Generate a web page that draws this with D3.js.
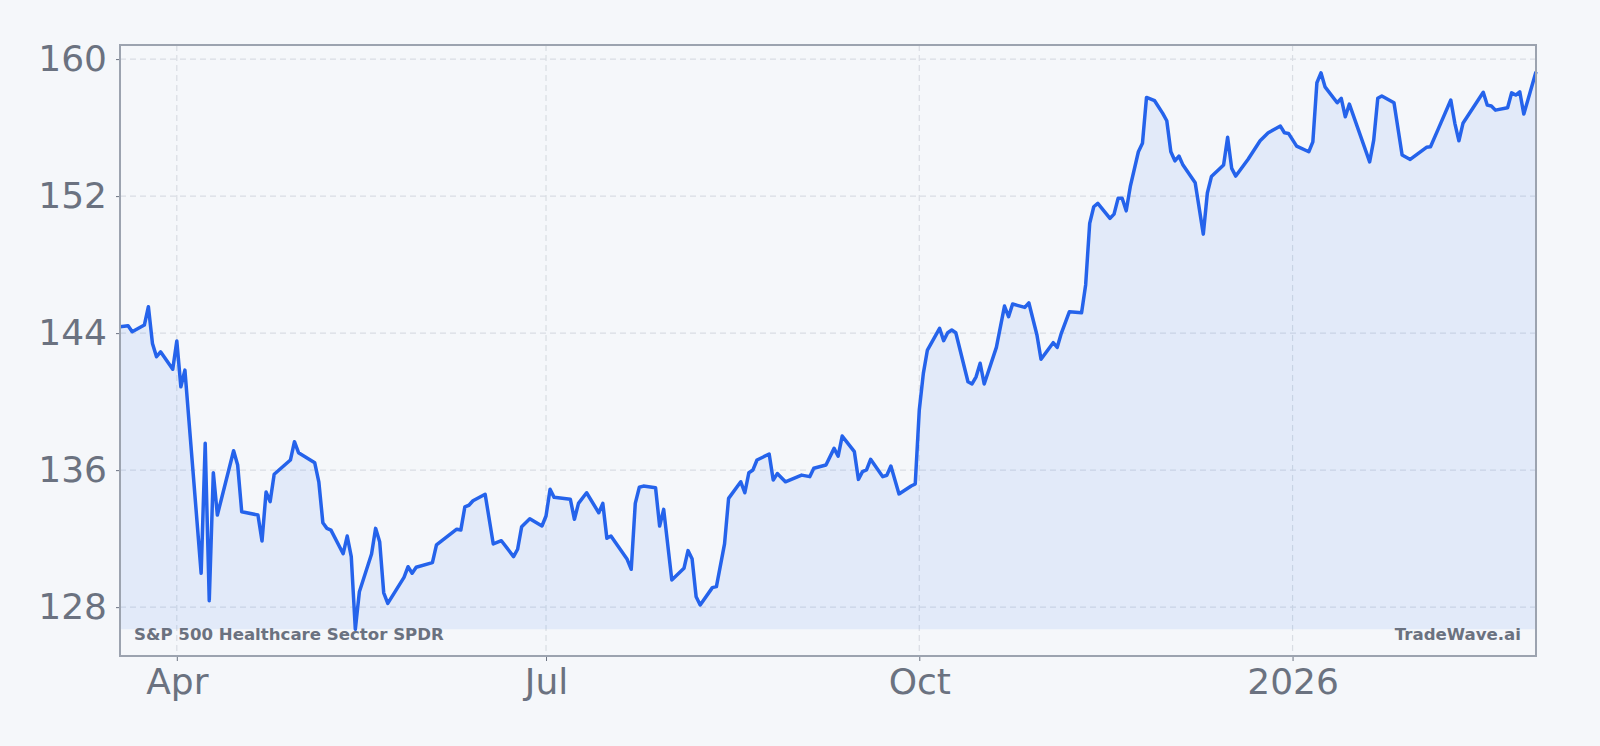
<!DOCTYPE html>
<html>
<head>
<meta charset="utf-8">
<script src="https://cdn.jsdelivr.net/npm/d3@7"></script>
<style>
  body { margin: 0; background: #f5f7fa; }
  svg { display: block; font-family: "DejaVu Sans", sans-serif; }
  .axis text { fill: #6b7280; font-size: 36px; font-family: "DejaVu Sans", sans-serif; }
  .axis line { stroke: #6b7280; }
  .grid line { stroke: #d9dde3; stroke-width: 1.2; stroke-dasharray: 6,4; }
  .label { fill: #6b7280; font-size: 16.6px; font-weight: bold; font-family: "DejaVu Sans", sans-serif; }
</style>
</head>
<body>
<svg id="chart"></svg>
<script>
// XLV close
const dates = [
  "2025-03-18","2025-03-20","2025-03-21","2025-03-24","2025-03-25","2025-03-26","2025-03-27","2025-03-28","2025-03-31",
  "2025-04-01","2025-04-02","2025-04-03","2025-04-07","2025-04-08","2025-04-09","2025-04-10","2025-04-11","2025-04-15",
  "2025-04-16","2025-04-17","2025-04-21","2025-04-22","2025-04-23","2025-04-24","2025-04-25","2025-04-29","2025-04-30",
  "2025-05-01","2025-05-05","2025-05-06","2025-05-07","2025-05-08","2025-05-09","2025-05-12","2025-05-13","2025-05-14",
  "2025-05-15","2025-05-16","2025-05-19","2025-05-20","2025-05-21","2025-05-22","2025-05-23","2025-05-27","2025-05-28",
  "2025-05-29","2025-05-30","2025-06-03","2025-06-04","2025-06-09","2025-06-10","2025-06-11","2025-06-12","2025-06-13",
  "2025-06-16","2025-06-18","2025-06-20","2025-06-23","2025-06-24","2025-06-25","2025-06-27","2025-06-30","2025-07-01",
  "2025-07-02","2025-07-03","2025-07-07","2025-07-08","2025-07-09","2025-07-11","2025-07-14","2025-07-15","2025-07-16",
  "2025-07-17","2025-07-21","2025-07-22","2025-07-23","2025-07-24","2025-07-25","2025-07-28","2025-07-29","2025-07-30",
  "2025-08-01","2025-08-04","2025-08-05","2025-08-06","2025-08-07","2025-08-08","2025-08-11","2025-08-12","2025-08-14",
  "2025-08-15","2025-08-18","2025-08-19","2025-08-20","2025-08-21","2025-08-22","2025-08-25","2025-08-26","2025-08-27",
  "2025-08-29","2025-09-02","2025-09-04","2025-09-05","2025-09-08","2025-09-10","2025-09-11","2025-09-12","2025-09-15",
  "2025-09-16","2025-09-17","2025-09-18","2025-09-19","2025-09-22","2025-09-23","2025-09-24","2025-09-26","2025-09-29",
  "2025-09-30","2025-10-01","2025-10-02","2025-10-03","2025-10-06","2025-10-07","2025-10-08","2025-10-09","2025-10-10",
  "2025-10-13","2025-10-14","2025-10-15","2025-10-16","2025-10-17","2025-10-20","2025-10-22","2025-10-23","2025-10-24",
  "2025-10-27","2025-10-28","2025-10-30","2025-10-31","2025-11-03","2025-11-04","2025-11-05","2025-11-07","2025-11-10",
  "2025-11-11","2025-11-12","2025-11-13","2025-11-14","2025-11-17","2025-11-18","2025-11-19","2025-11-20","2025-11-21",
  "2025-11-22","2025-11-24","2025-11-25","2025-11-26","2025-11-28","2025-11-30","2025-12-01","2025-12-02","2025-12-03",
  "2025-12-04","2025-12-05","2025-12-08","2025-12-10","2025-12-11","2025-12-12","2025-12-15","2025-12-16","2025-12-17",
  "2025-12-18","2025-12-21","2025-12-24","2025-12-26","2025-12-29","2025-12-30","2025-12-31","2026-01-02","2026-01-05",
  "2026-01-06","2026-01-07","2026-01-08","2026-01-09","2026-01-12","2026-01-13","2026-01-14","2026-01-15","2026-01-20",
  "2026-01-21","2026-01-22","2026-01-23","2026-01-26","2026-01-28","2026-01-30","2026-02-03","2026-02-04","2026-02-06",
  "2026-02-09","2026-02-10","2026-02-11","2026-02-12","2026-02-17","2026-02-18","2026-02-19","2026-02-20","2026-02-23",
  "2026-02-24","2026-02-25","2026-02-26","2026-02-27","2026-03-02"
];
const prices = [
  144.37,144.43,144.08,144.47,145.54,143.40,142.62,142.91,141.89,
  143.54,140.87,141.84,129.98,137.57,128.38,135.85,133.38,137.13,
  136.30,133.57,133.38,131.86,134.72,134.16,135.76,136.59,137.66,
  137.02,136.43,135.32,132.93,132.60,132.50,131.12,132.15,130.95,
  126.71,128.90,131.10,132.60,131.82,128.84,128.22,129.74,130.36,
  129.98,130.33,130.60,131.63,132.55,132.50,133.86,133.95,134.21,
  134.59,131.69,131.88,130.95,131.38,132.70,133.16,132.74,133.32,
  134.88,134.41,134.30,133.13,134.06,134.68,133.51,134.06,132.02,
  132.15,130.79,130.21,134.06,135.00,135.07,134.97,132.74,133.71,
  129.59,130.27,131.30,130.83,128.61,128.13,129.14,129.20,131.69,
  134.35,135.32,134.68,135.85,136.01,136.59,136.94,135.42,135.80,
  135.32,135.71,135.62,136.11,136.30,137.27,136.82,137.99,137.08,
  135.46,135.91,136.01,136.63,135.62,135.70,136.24,134.61,135.07,
  135.19,139.51,141.65,143.01,144.28,143.56,144.02,144.18,144.02,
  141.16,141.03,141.45,142.24,141.03,143.17,145.58,144.96,145.70,
  145.50,145.77,143.89,142.47,143.44,143.17,143.99,145.25,145.19,
  146.81,150.41,151.38,151.58,150.70,150.95,151.87,151.87,151.14,
  152.55,154.59,155.08,157.76,157.57,156.83,156.40,154.59,154.06,
  154.34,153.81,152.78,149.78,152.18,153.14,153.81,155.43,153.62,
  153.17,154.14,155.23,155.70,156.09,155.70,155.66,154.92,154.59,
  155.17,158.62,159.20,158.38,157.45,157.71,156.63,157.37,154.00,
  155.27,157.71,157.84,157.45,154.40,154.14,154.85,154.88,155.97,
  157.61,156.25,155.23,156.25,158.06,157.31,157.26,157.02,157.16,
  158.03,157.90,158.09,156.79,159.26
];
const yTicks = [128, 136, 144, 152, 160];
const xTickDates = ["2025-04-01", "2025-07-01", "2025-10-01", "2026-01-01"];
const xTickLabels = ["Apr", "Jul", "Oct", "2026"];
const title = "S&P 500 Healthcare Sector SPDR";
const brand = "TradeWave.ai";

const width = 1600;
const height = 746;
const margin = {top: 45, right: 64, bottom: 90, left: 120};
const yPad = 0.048;

const parse = d3.timeParse("%Y-%m-%d");
const data = dates.map((d, i) => ({date: parse(d), value: prices[i]}));

const svg = d3.select("#chart")
    .attr("width", width)
    .attr("height", height);

const x = d3.scaleTime()
    .domain(d3.extent(data, d => d.date))
    .range([margin.left, width - margin.right]);

const [lo, hi] = d3.extent(data, d => d.value);
const pad = (hi - lo) * yPad;
const y = d3.scaleLinear()
    .domain([lo - pad, hi + pad])
    .range([height - margin.bottom, margin.top]);

const xTicks = xTickDates.map(parse);

// сетка
svg.append("g")
    .attr("class", "grid")
    .selectAll("line.h")
    .data(yTicks)
    .join("line")
    .attr("x1", margin.left)
    .attr("x2", width - margin.right)
    .attr("y1", d => y(d))
    .attr("y2", d => y(d));

svg.append("g")
    .attr("class", "grid")
    .selectAll("line.v")
    .data(xTicks)
    .join("line")
    .attr("x1", d => x(d))
    .attr("x2", d => x(d))
    .attr("y1", margin.top)
    .attr("y2", height - margin.bottom);

// заливка до минимума
const area = d3.area()
    .x(d => x(d.date))
    .y0(y(lo))
    .y1(d => y(d.value));

svg.append("path")
    .datum(data)
    .attr("fill", "#3b82f6")
    .attr("fill-opacity", 0.1)
    .attr("d", area);

const line = d3.line()
    .x(d => x(d.date))
    .y(d => y(d.value));

svg.append("path")
    .datum(data)
    .attr("fill", "none")
    .attr("stroke", "#2563eb")
    .attr("stroke-width", 3.5)
    .attr("stroke-linejoin", "round")
    .attr("d", line);

// оси
svg.append("g")
    .attr("class", "axis")
    .attr("transform", `translate(0,${height - margin.bottom})`)
    .call(d3.axisBottom(x)
        .tickValues(xTicks)
        .tickFormat((d, i) => xTickLabels[i])
        .tickSize(5)
        .tickPadding(7))
    .call(g => g.select(".domain").remove());

svg.append("g")
    .attr("class", "axis")
    .attr("transform", `translate(${margin.left},0)`)
    .call(d3.axisLeft(y)
        .tickValues(yTicks)
        .tickSize(4)
        .tickPadding(9))
    .call(g => g.select(".domain").remove());

// рамка
svg.append("rect")
    .attr("x", margin.left)
    .attr("y", margin.top)
    .attr("width", width - margin.left - margin.right)
    .attr("height", height - margin.top - margin.bottom)
    .attr("fill", "none")
    .attr("stroke", "#9ca3af")
    .attr("stroke-width", 2);

// подписи
svg.append("text")
    .attr("class", "label")
    .attr("x", margin.left + 14)
    .attr("y", height - margin.bottom - 16)
    .text(title);

svg.append("text")
    .attr("class", "label")
    .attr("x", width - margin.right - 15)
    .attr("y", height - margin.bottom - 16)
    .attr("text-anchor", "end")
    .text(brand);
</script>
</body>
</html>
